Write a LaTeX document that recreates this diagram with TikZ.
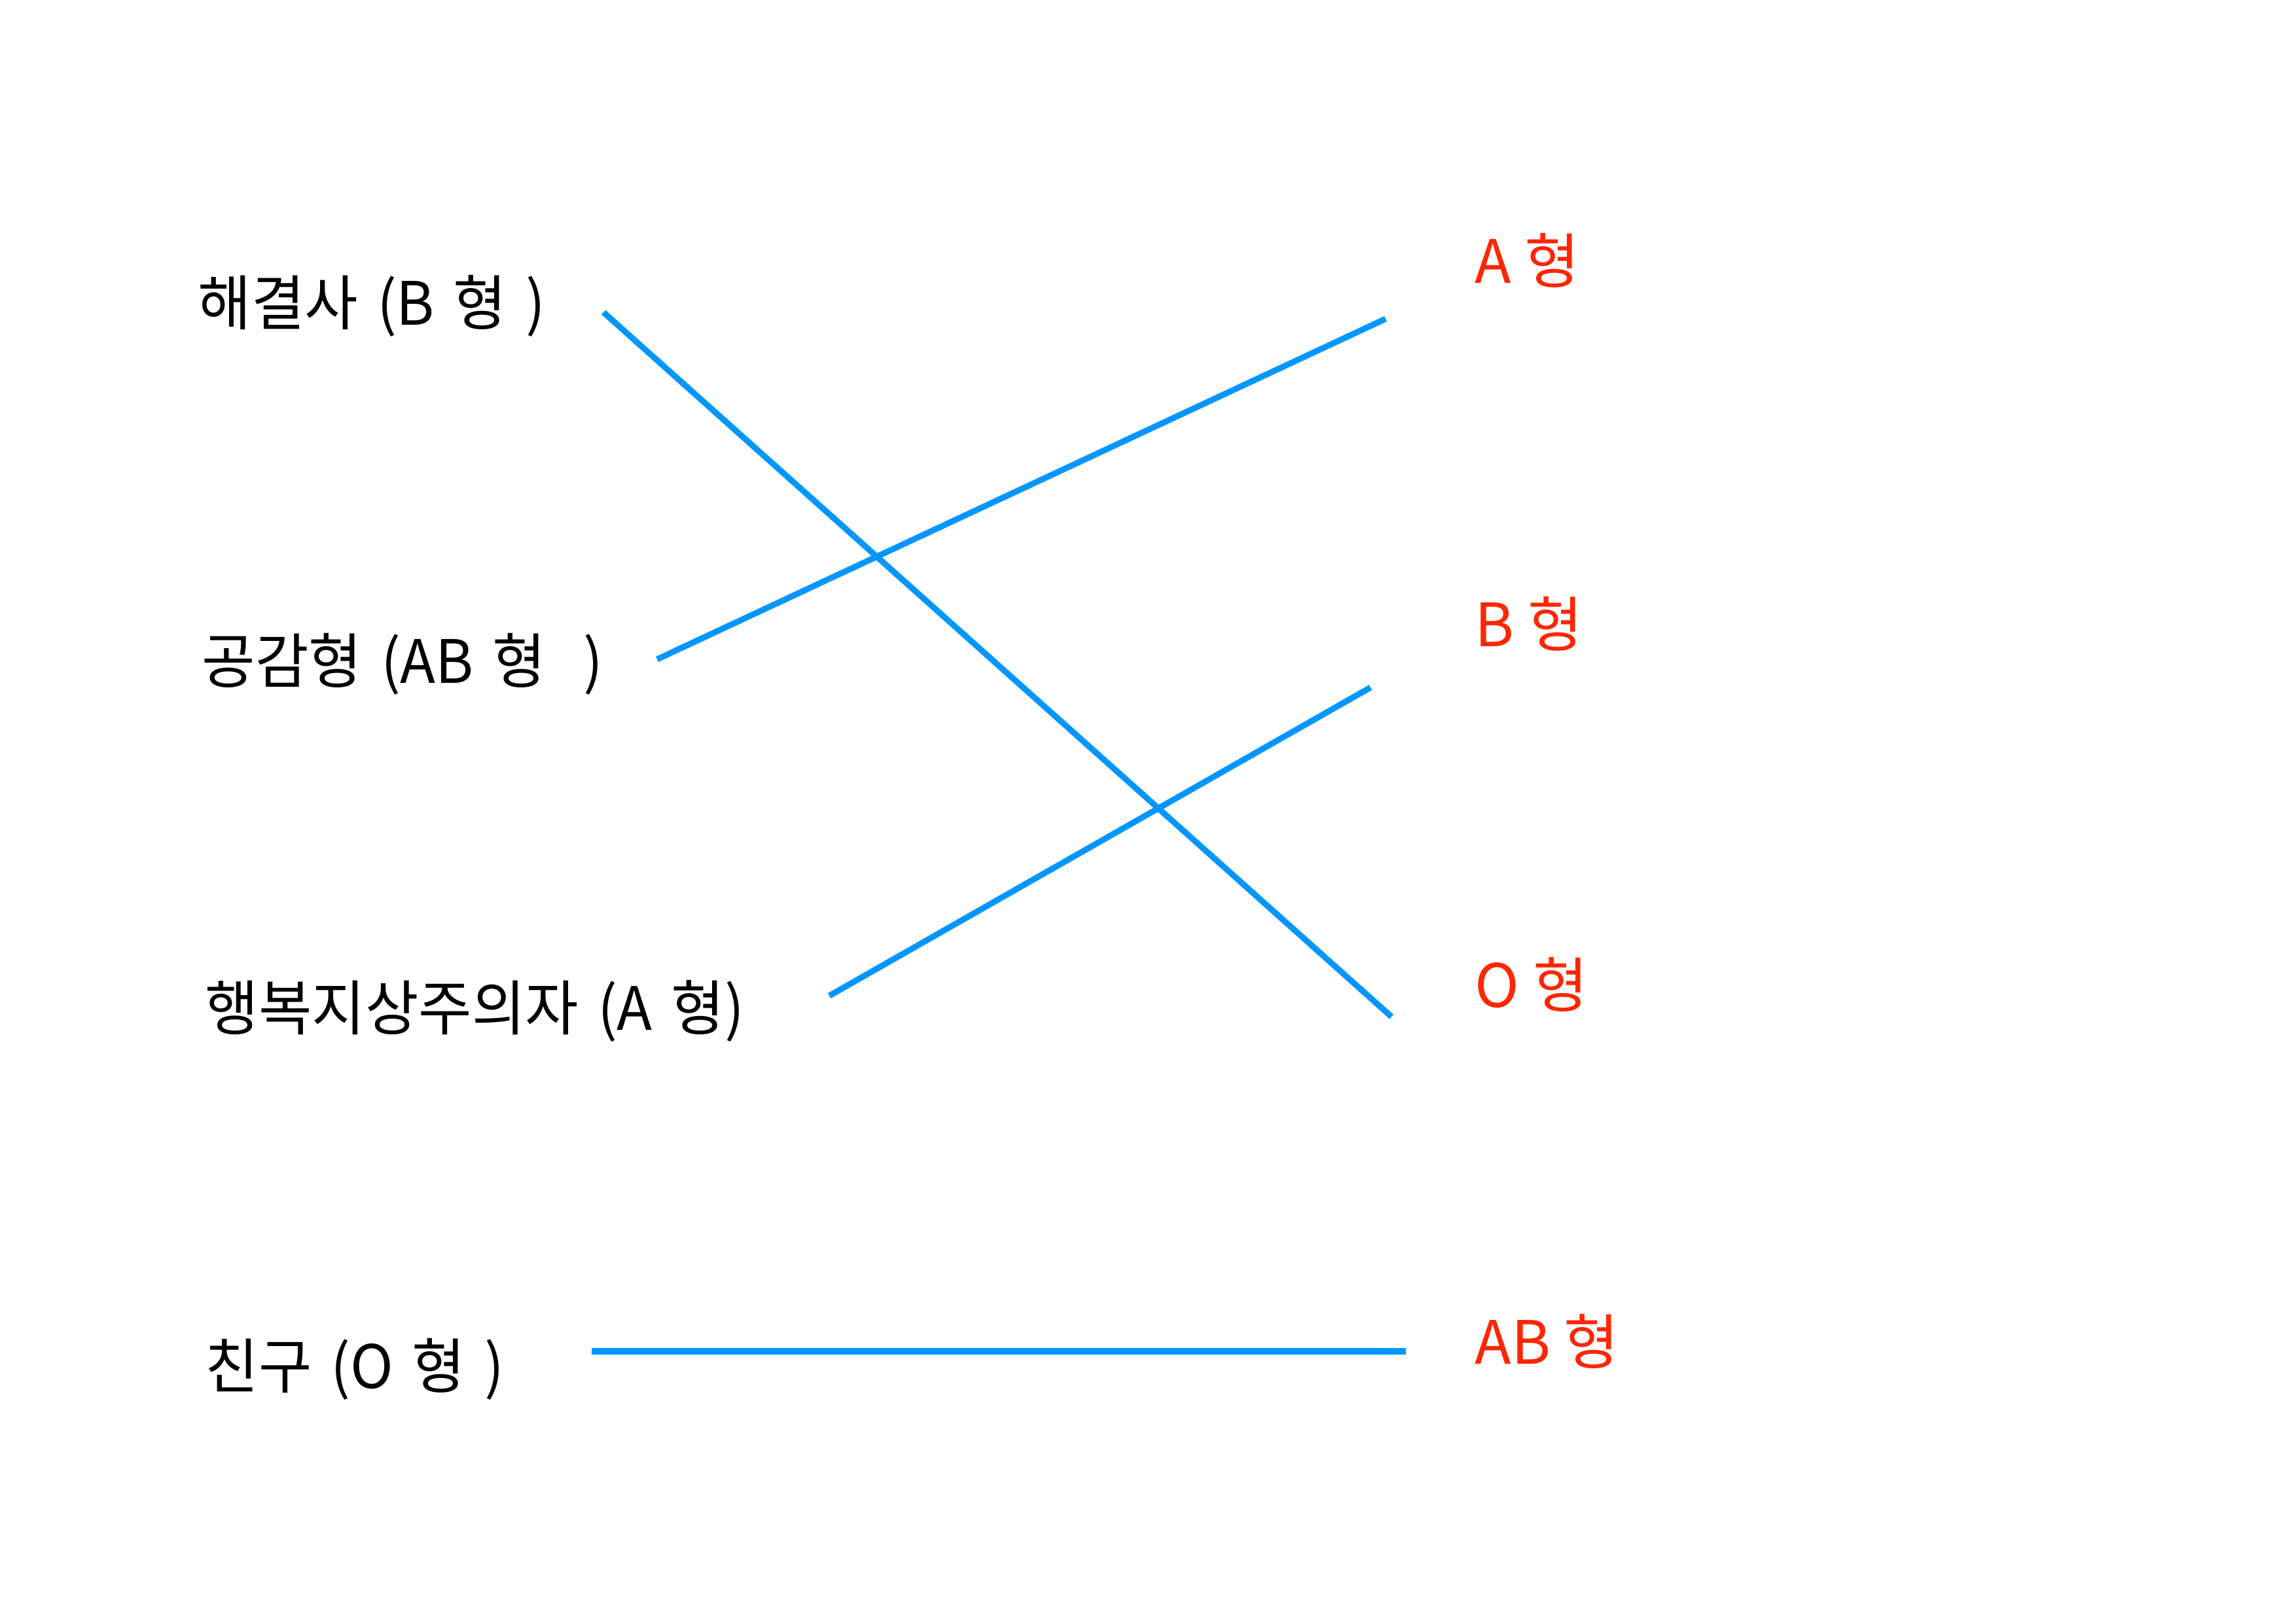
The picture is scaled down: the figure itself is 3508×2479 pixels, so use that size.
\documentclass[tikz,border=0pt]{standalone}
\usepackage{fontspec}
\setmainfont{Noto Sans CJK KR}
\newfontfamily\typefont[FakeStretch=0.97,WordSpace=1.45]{Noto Sans CJK KR}
\usepackage{tikz}
\usetikzlibrary{positioning}
\definecolor{aqua}{RGB}{0,150,255}
\definecolor{maraschino}{RGB}{255,38,0}
\tikzset{
  person/.style={anchor=base west,inner sep=0pt,font=\typefont\fontsize{22}{26}\selectfont},
  blood/.style={anchor=base west,inner sep=0pt,text=maraschino,font=\fontsize{22}{26}\selectfont},
  link/.style={aqua,line width=2.2pt}
}

\begin{document}
\begin{tikzpicture}[x=0.084664mm,y=-0.084664mm]
  \useasboundingbox (0,0) rectangle (3508,2479);
  % left column
  \node[person] (sol) at (302,497) {해결사 (B 형 )};
  \node[person] (emp) at (308,1044) {공감형 (AB 형\ \ )};
  \node[person] (hap) at (313,1573) {행복지상주의자 (A 형)};
  \node[person] (fri) at (313,2120) {친구 (O 형 )};
  % right column
  \node[blood] (ta) at (2253,433) {A 형};
  \node[blood] (tb) at (2253,988) {B 형};
  \node[blood] (to) at (2253,1538) {O 형};
  \node[blood] (tab) at (2253,2083) {AB 형};
  % line ends
  \coordinate (sol-e) at (922,477);
  \coordinate (emp-e) at (1004,1007);
  \coordinate (hap-e) at (1267,1521);
  \coordinate (fri-e) at (904,2064);
  \coordinate (ta-e) at (2117,487);
  \coordinate (tb-e) at (2094,1050);
  \coordinate (to-e) at (2126,1553);
  \coordinate (tab-e) at (2148,2064);
  \draw[link] (sol-e) -- (to-e);
  \draw[link] (emp-e) -- (ta-e);
  \draw[link] (hap-e) -- (tb-e);
  \draw[link] (fri-e) -- (tab-e);
\end{tikzpicture}
\end{document}
